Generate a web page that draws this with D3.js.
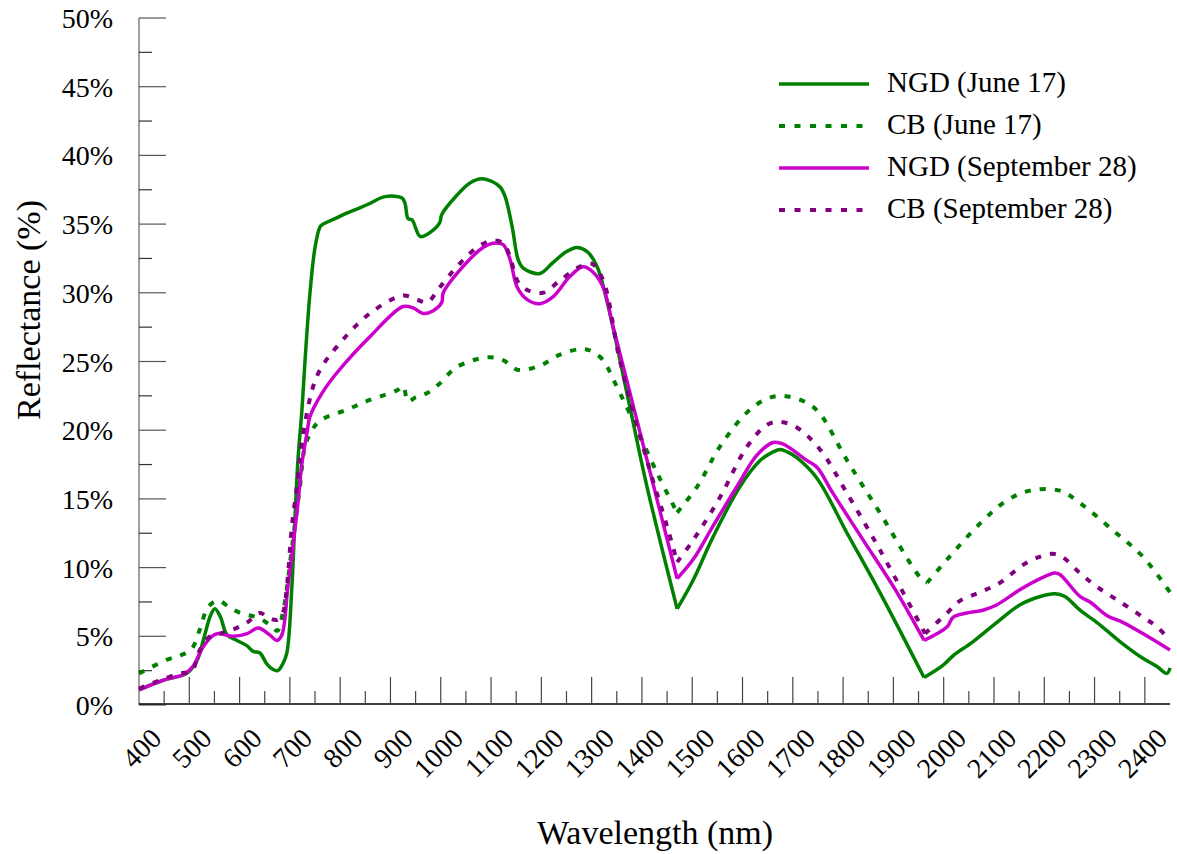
<!DOCTYPE html>
<html>
<head>
<meta charset="utf-8">
<script src="https://cdn.jsdelivr.net/npm/d3@7"></script>
<style>
  body { margin: 0; background: #fff; }
</style>
</head>
<body>
<svg width="1177" height="854"></svg>
<script>
// [wavelength nm, reflectance %]
const ngdJune = [[350,1.1],[398,1.8],[445,2.3],[465,3.2],[480,5.0],[492,6.5],[501,7.0],[512,6.4],[525,5.1],[545,4.7],[565,4.3],[577,3.9],[590,3.8],[604,3.0],[616,2.6],[626,2.5],[636,3.0],[644,3.8],[654,8.6],[660,13.5],[666,17.8],[674,21.5],[680,25],[690,30.0],[700,33.3],[710,34.8],[716,35.0],[740,35.4],[763,35.8],[790,36.2],[809,36.5],[839,37.0],[873,36.9],[879,36.5],[885,35.4],[893,35.3],[909,34.1],[925,34.3],[948,35.1],[952,35.7],[982,37.1],[1008,38.0],[1032,38.3],[1052,38.1],[1068,37.7],[1078,37.0],[1092,34.8],[1104,32.4],[1114,31.8],[1147,31.4],[1173,32.2],[1200,33.0],[1221,33.3],[1241,33.0],[1261,31.9],[1281,29.3],[1326,21.7],[1360,15.9],[1420,7.0],[1452,9.1],[1491,12.2],[1545,15.9],[1585,17.8],[1610,18.4],[1625,18.6],[1640,18.4],[1658,18.0],[1698,16.5],[1758,12.5],[1823,8.2],[1911,2.0],[1949,2.9],[1969,3.6],[2008,4.6],[2062,6.2],[2102,7.3],[2142,7.9],[2171,8.1],[2191,7.9],[2221,6.9],[2255,6.0],[2301,4.6],[2346,3.4],[2374,2.8],[2394,2.3],[2400,2.7]];

const cbJune = [[350,2.3],[406,3.3],[432,3.6],[455,4.1],[471,5.5],[487,7.1],[507,7.6],[530,7.1],[551,6.7],[590,6.3],[614,5.7],[625,5.4],[636,6.7],[656,12.0],[670,15.9],[680,18.8],[694,20.0],[710,20.7],[764,21.5],[809,22.2],[863,22.9],[875,23.2],[885,22.1],[900,22.4],[923,22.7],[948,23.4],[982,24.6],[1042,25.3],[1074,25.1],[1102,24.4],[1147,24.7],[1187,25.5],[1227,25.9],[1247,25.8],[1273,25.1],[1293,23.7],[1326,21.2],[1380,16.9],[1420,14.0],[1460,15.9],[1505,18.8],[1559,21.3],[1599,22.3],[1629,22.5],[1678,22.0],[1704,21.2],[1758,17.8],[1823,14.0],[1903,9.3],[1917,8.9],[1957,10.6],[2022,13.2],[2076,14.9],[2122,15.6],[2181,15.6],[2221,14.7],[2287,12.7],[2346,10.8],[2400,8.2]];

const ngdSept = [[350,1.1],[406,1.9],[438,2.2],[457,2.8],[477,4.2],[495,5.0],[507,5.2],[537,5.0],[565,5.2],[587,5.6],[610,5.1],[624,4.7],[634,5.1],[646,8.6],[656,11.5],[666,14.7],[674,17.6],[684,19.8],[690,21.0],[714,22.7],[744,24.2],[809,26.8],[875,29.0],[895,28.9],[915,28.5],[935,28.7],[952,29.3],[955,30.0],[994,31.9],[1034,33.3],[1054,33.6],[1074,33.5],[1088,32.4],[1102,30.4],[1122,29.5],[1147,29.2],[1173,29.7],[1207,31.2],[1233,31.9],[1253,31.5],[1273,30.4],[1293,27.5],[1420,9.2],[1452,10.6],[1491,13.0],[1539,15.9],[1579,18.2],[1611,19.1],[1630,19.0],[1678,17.8],[1698,17.3],[1730,15.4],[1790,12.0],[1857,8.2],[1911,4.7],[1957,5.7],[1969,6.4],[1996,6.7],[2028,6.9],[2056,7.3],[2102,8.4],[2142,9.2],[2171,9.6],[2181,9.5],[2221,7.9],[2241,7.5],[2275,6.5],[2307,6.0],[2346,5.2],[2400,4.0]];

const cbSept = [[350,1.2],[406,2.0],[432,2.3],[455,2.5],[471,4.0],[491,5.0],[511,5.2],[537,5.5],[565,6.0],[590,6.7],[610,6.3],[625,6.2],[636,6.7],[644,8.6],[654,13.0],[664,15.9],[674,19.1],[694,22.9],[710,24.4],[744,26.1],[809,28.5],[875,29.8],[903,29.5],[923,29.3],[948,30.4],[982,31.9],[1022,33.3],[1052,33.8],[1074,33.6],[1088,32.6],[1102,30.9],[1122,30.2],[1153,30.0],[1187,30.9],[1227,31.9],[1251,32.1],[1273,30.9],[1306,25.1],[1360,17.8],[1400,13.0],[1420,10.4],[1452,12.0],[1505,15.1],[1559,18.8],[1599,20.4],[1625,20.6],[1658,20.2],[1704,18.6],[1758,15.4],[1823,11.3],[1913,5.2],[1957,6.7],[1983,7.6],[2022,8.2],[2062,8.9],[2108,10.2],[2142,10.8],[2167,11.0],[2185,10.8],[2221,9.6],[2255,8.6],[2301,7.5],[2346,6.4],[2374,5.7],[2400,4.7]];

// sharp dips where the water absorption bands were cut out
const bandDips = [1420, 1911, 1913, 1917];

const seriesNames = ["NGD (June 17)", "CB (June 17)", "NGD (September 28)", "CB (September 28)"];
const seriesData = [ngdJune, cbJune, ngdSept, cbSept];
const seriesColors = ["#008000", "#008000", "#cc00cc", "#800080"];
const seriesDashed = [false, true, false, true];

const xLabels = d3.range(400, 2401, 100);
const xMinorTicks = d3.range(400, 2301, 100);
const xMajorTicks = d3.range(450, 2351, 100);
const yMajorTicks = d3.range(0, 51, 5);
const yMinorTicks = d3.range(2.5, 50, 5);

const FONT = "Liberation Serif";

const svg = d3.select("svg");

const x = d3.scaleLinear().domain([350, 2400]).range([139, 1170]);
const y = d3.scaleLinear().domain([0, 50]).range([705, 18]);

// y axis
svg.append("line")
  .attr("x1", x(350)).attr("x2", x(350))
  .attr("y1", y(50)).attr("y2", y(0))
  .attr("stroke", "#808080").attr("stroke-width", 1.5);

svg.selectAll(".ytick").data(yMajorTicks).enter().append("line")
  .attr("x1", x(350)).attr("x2", x(350) + 27)
  .attr("y1", d => y(d)).attr("y2", d => y(d))
  .attr("stroke", "#555").attr("stroke-width", 1.2);

svg.selectAll(".yminor").data(yMinorTicks).enter().append("line")
  .attr("x1", x(350)).attr("x2", x(350) + 13)
  .attr("y1", d => y(d)).attr("y2", d => y(d))
  .attr("stroke", "#333").attr("stroke-width", 1.2);

svg.selectAll(".ylabel").data(yMajorTicks).enter().append("text")
  .attr("x", 113).attr("y", d => y(d) + 10)
  .attr("text-anchor", "end")
  .attr("font-family", FONT)
  .attr("font-size", 28)
  .text(d => d + "%");

// x axis
svg.append("line")
  .attr("x1", x(350)).attr("x2", x(2400))
  .attr("y1", y(0) - 1).attr("y2", y(0) - 1)
  .attr("stroke", "#000").attr("stroke-width", 1.5);

svg.selectAll(".xmajor").data(xMajorTicks).enter().append("line")
  .attr("x1", d => x(d)).attr("x2", d => x(d))
  .attr("y1", y(0)).attr("y2", y(0) - 28)
  .attr("stroke", "#444").attr("stroke-width", 1.2);

svg.selectAll(".xminor").data(xMinorTicks).enter().append("line")
  .attr("x1", d => x(d)).attr("x2", d => x(d))
  .attr("y1", y(0)).attr("y2", y(0) - 14)
  .attr("stroke", "#444").attr("stroke-width", 1.2);

svg.selectAll(".xlabel").data(xLabels).enter().append("text")
  .attr("transform", d => `translate(${x(d) - 1}, 740) rotate(-45)`)
  .attr("text-anchor", "end")
  .attr("font-family", FONT)
  .attr("font-size", 28)
  .text(d => d);

// axis titles
svg.append("text")
  .attr("transform", "translate(40, 310) rotate(-90)")
  .attr("text-anchor", "middle")
  .attr("font-family", FONT)
  .attr("font-size", 34)
  .text("Reflectance (%)");

svg.append("text")
  .attr("x", 655).attr("y", 844)
  .attr("text-anchor", "middle")
  .attr("font-family", FONT)
  .attr("font-size", 34)
  .text("Wavelength (nm)");

// lines: smooth pieces, split at the band dips so those stay sharp
const line = d3.line()
  .x(d => x(d[0]))
  .y(d => y(d[1]))
  .curve(d3.curveCatmullRom.alpha(0.5));

function splitAtDips(data) {
  const pieces = [];
  let cur = [];
  data.forEach(d => {
    cur.push(d);
    if (bandDips.includes(d[0])) {
      pieces.push(cur);
      cur = [d];
    }
  });
  if (cur.length > 1) pieces.push(cur);
  return pieces;
}

seriesData.forEach((data, i) => {
  const g = svg.append("g");
  splitAtDips(data).forEach(piece => {
    g.append("path")
      .datum(piece)
      .attr("d", line)
      .attr("fill", "none")
      .attr("stroke", seriesColors[i])
      .attr("stroke-width", seriesDashed[i] ? 4 : 3.5)
      .attr("stroke-dasharray", seriesDashed[i] ? "6,9" : null)
      .attr("stroke-linejoin", "round");
  });
});

// legend
const legend = svg.append("g");
seriesNames.forEach((name, i) => {
  const ly = 84 + i * 42;
  legend.append("line")
    .attr("x1", 779).attr("x2", 869)
    .attr("y1", ly).attr("y2", ly)
    .attr("stroke", seriesColors[i])
    .attr("stroke-width", seriesDashed[i] ? 4 : 3.5)
    .attr("stroke-dasharray", seriesDashed[i] ? "6,9.5" : null);
  legend.append("text")
    .attr("x", 887).attr("y", ly + 8)
    .attr("font-family", FONT)
    .attr("font-size", 29)
    .text(name);
});
</script>
</body>
</html>
